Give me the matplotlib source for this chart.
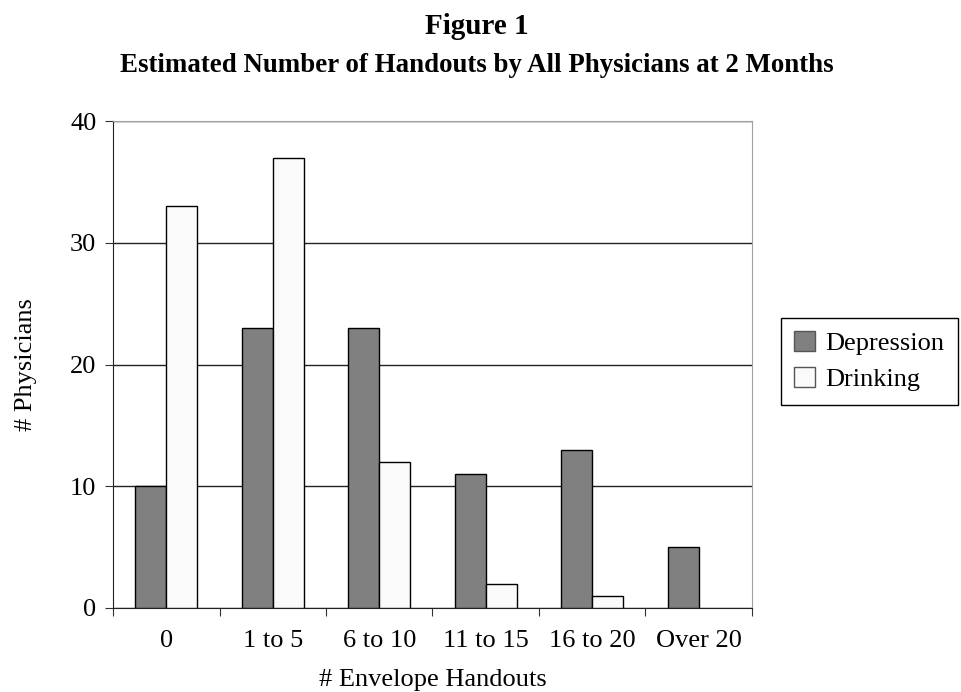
import numpy as np
import matplotlib
matplotlib.use('Agg')
import matplotlib.pyplot as plt

plt.rcParams['font.family'] = 'Liberation Serif'

#Datos
categorias = ['0', '1 to 5', '6 to 10', '11 to 15', '16 to 20', 'Over 20']
depresion = [10, 23, 23, 11, 13, 5]
bebida = [33, 37, 12, 2, 1, 0]
yticks = [0, 10, 20, 30, 40]

fig = plt.figure(figsize=(9.61, 6.92), dpi=100)
ax = fig.add_axes([0.1176, 0.1214, 0.6649, 0.7037])

x = np.arange(len(categorias))
w = 0.29
ax.bar(x - w/2, depresion, w, color='#808080', edgecolor='black', linewidth=1, label='Depression', zorder=3)
barras = ax.bar(x + w/2, bebida, w, color='#fafafa', edgecolor='black', linewidth=1, label='Drinking', zorder=3)
#Las barras en cero no se dibujan
for b, v in zip(barras, bebida):
    if v == 0:
        b.set_visible(False)

ax.set_xlim(-0.5, len(categorias) - 0.5)
ax.set_ylim(0, 40)
ax.set_yticks(yticks)
ax.yaxis.grid(True, color='#222222', linewidth=1, zorder=0)

# ticks entre categorias
ax.set_xticks(np.arange(-0.5, len(categorias), 1))
ax.set_xticklabels([])
ax.set_xticks(x, minor=True)
ax.set_xticklabels(categorias, minor=True, fontsize=19)
ax.tick_params(axis='x', which='minor', length=0, pad=16)
ax.tick_params(axis='x', which='major', length=6, direction='out', color='#333333')
ax.tick_params(axis='y', length=6, direction='out', labelsize=19, pad=6, color='#333333')

for s in ['top', 'right']:
    ax.spines[s].set_color('#a0a0a0')
for s in ['left', 'bottom']:
    ax.spines[s].set_color('#222222')

ax.set_ylabel('# Physicians', fontsize=19, labelpad=24)
ax.set_xlabel('# Envelope Handouts', fontsize=19, labelpad=12)

fig.text(0.4965, 0.962, 'Figure 1', ha='center', va='center', fontsize=21, fontweight='bold')
fig.text(0.4965, 0.906, 'Estimated Number of Handouts by All Physicians at 2 Months',
         ha='center', va='center', fontsize=19.4, fontweight='bold')

leg = fig.legend(loc='center left', bbox_to_anchor=(0.8124, 0.478), fontsize=19,
                 fancybox=False, edgecolor='black', framealpha=1,
                 handlelength=0.8, handleheight=0.8, handletextpad=0.4,
                 borderpad=0.5, borderaxespad=0, labelspacing=0.45)
leg.get_frame().set_linewidth(1)
for h in leg.legend_handles:
    h.set_edgecolor('#555555')

fig.savefig('out.png', dpi=100)
